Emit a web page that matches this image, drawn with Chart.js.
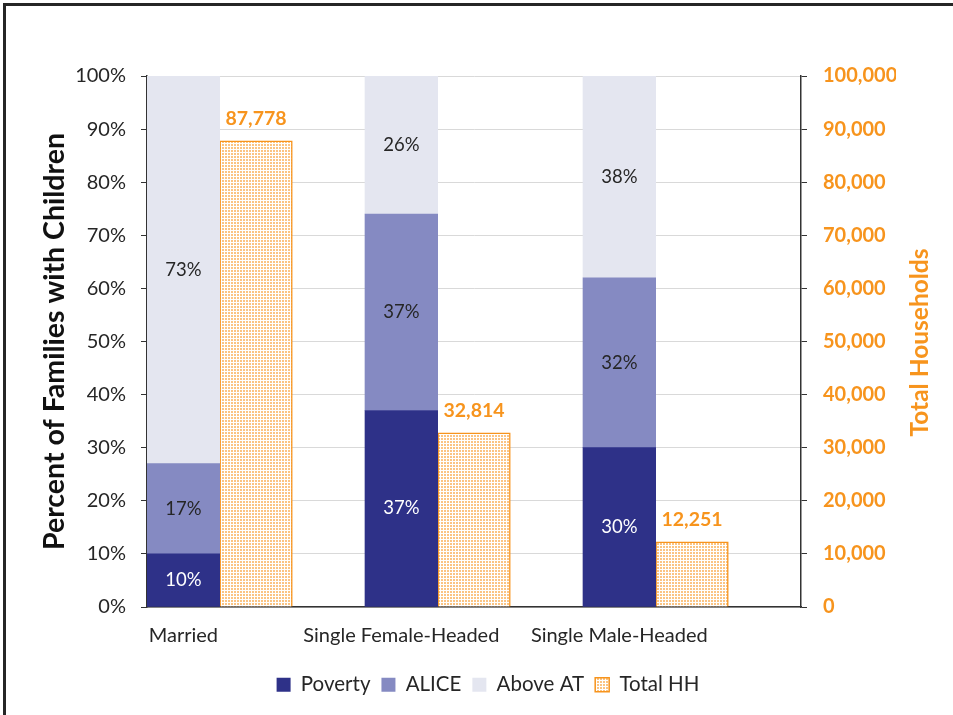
<!DOCTYPE html>
<html>
<head>
<meta charset="utf-8">
<script src="https://cdn.jsdelivr.net/npm/chart.js@4/dist/chart.umd.min.js"></script>
<style>
  html, body { margin: 0; padding: 0; background: #fff; }
  #wrap { width: 953px; height: 715px; }
</style>
</head>
<body>
<div id="wrap"><canvas id="alicesChart"></canvas></div>
<script>
// chart values
const categories = ['Married', 'Single Female-Headed', 'Single Male-Headed'];
const poverty = [10, 37, 30];
const alice = [17, 37, 32];
const aboveAT = [73, 26, 38];
const totalHH = [87778, 32814, 12251];

const FONT = 'Lato, "Open Sans", sans-serif';
const ORANGE = '#F7941D';
const TEXT = '#262626';

// each category takes 3 slots: stacked bar, total HH bar, gap
const SLOTS = 3;
function slotData(values, offset) {
  return values.map((v, i) => ({ x: i * SLOTS + offset, y: v }));
}

const canvas = document.getElementById('alicesChart');
const ctx2d = canvas.getContext('2d');

function dotPattern() {
  const p = document.createElement('canvas');
  p.width = 3; p.height = 3;
  const g = p.getContext('2d');
  g.fillStyle = '#ffffff';
  g.fillRect(0, 0, 3, 3);
  g.fillStyle = 'rgba(247,148,29,0.55)';
  g.fillRect(0, 0, 2, 2);
  return ctx2d.createPattern(p, 'repeat');
}

const frame = {
  id: 'frame',
  beforeDraw(chart) {
    const ctx = chart.ctx;
    ctx.save();
    ctx.fillStyle = '#fff';
    ctx.fillRect(0, 0, chart.width, chart.height);
    ctx.strokeStyle = '#262626';
    ctx.lineWidth = 3;
    ctx.strokeRect(4.5, 4.5, chart.width + 20, chart.height + 20);
    ctx.restore();
  }
};

// legend sits a bit right of the page centre in the original
const legendShift = {
  id: 'legendShift',
  afterLayout(chart) {
    chart.legend.left += 21;
    chart.legend.right += 21;
  }
};

const barLabels = {
  id: 'barLabels',
  afterDatasetsDraw(chart) {
    const ctx = chart.ctx;
    ctx.save();
    ctx.textAlign = 'center';
    ctx.textBaseline = 'middle';
    chart.data.datasets.forEach((ds, di) => {
      const meta = chart.getDatasetMeta(di);
      meta.data.forEach((bar, i) => {
        const v = ds.data[i].y;
        if (ds.yAxisID === 'y2') {
          ctx.font = 'bold 19.5px ' + FONT;
          ctx.fillStyle = ORANGE;
          ctx.fillText(v.toLocaleString('en-US'), bar.x, bar.y - 22);
        } else {
          ctx.font = '18.5px ' + FONT;
          ctx.fillStyle = ds.label === 'Poverty' ? '#ffffff' : TEXT;
          ctx.fillText(v + '%', bar.x, (bar.y + bar.base) / 2);
        }
      });
    });
    ctx.restore();
  }
};

// right title reads bottom to top, so draw it by hand
const rightTitle = {
  id: 'rightTitle',
  afterDraw(chart) {
    const ctx = chart.ctx;
    const area = chart.chartArea;
    ctx.save();
    ctx.translate(chart.width - 33, (area.top + area.bottom) / 2 + 1);
    ctx.rotate(-Math.PI / 2);
    ctx.font = 'bold 24.5px ' + FONT;
    ctx.fillStyle = ORANGE;
    ctx.textAlign = 'center';
    ctx.textBaseline = 'middle';
    ctx.fillText('Total Households', 0, 0);
    ctx.restore();
  }
};

new Chart(canvas, {
  type: 'bar',
  data: {
    datasets: [
      { label: 'Poverty', data: slotData(poverty, 0), backgroundColor: '#2E3188', stack: 'pct', yAxisID: 'y' },
      { label: 'ALICE', data: slotData(alice, 0), backgroundColor: '#858AC2', stack: 'pct', yAxisID: 'y' },
      { label: 'Above AT', data: slotData(aboveAT, 0), backgroundColor: '#E4E6F0', stack: 'pct', yAxisID: 'y' },
      { label: 'Total HH', data: slotData(totalHH, 1), backgroundColor: dotPattern(), borderColor: ORANGE,
        borderWidth: 1.5, stack: 'hh', yAxisID: 'y2' }
    ]
  },
  options: {
    responsive: true,
    maintainAspectRatio: false,
    animation: false,
    grouped: false,
    barPercentage: 1,
    categoryPercentage: 1,
    layout: { padding: { left: 38, right: 57, top: 76, bottom: 10 } },
    plugins: {
      legend: {
        position: 'bottom',
        labels: {
          boxWidth: 14, boxHeight: 14, padding: 11,
          color: TEXT, font: { family: FONT, size: 20.5 }
        }
      },
      tooltip: { enabled: false }
    },
    scales: {
      x: {
        type: 'linear',
        min: -0.5,
        max: categories.length * SLOTS - 0.5,
        offset: false,
        grid: { display: false, drawTicks: false },
        border: { display: true, color: '#333', width: 1.5 },
        afterBuildTicks: (scale) => {
          scale.ticks = categories.map((c, i) => ({ value: i * SLOTS }));
        },
        afterFit: (scale) => { scale.height = 56.5; },
        ticks: {
          autoSkip: false, maxRotation: 0, padding: 17,
          color: TEXT, font: { family: FONT, size: 20 },
          callback: (v) => categories[Math.round(v / SLOTS)]
        }
      },
      y: {
        stacked: true,
        min: 0, max: 100,
        grid: { color: '#D9D9D9', tickColor: '#333', tickLength: 6 },
        border: { display: true, color: '#333', width: 1.5 },
        afterFit: (scale) => { scale.width = 109; },
        ticks: {
          stepSize: 10, padding: 15,
          color: TEXT, font: { family: FONT, size: 20 },
          callback: (v) => v + '%'
        },
        title: {
          display: true,
          text: 'Percent of Families with Children',
          color: '#111',
          font: { family: FONT, size: 28.5, weight: 'bold' },
          padding: { top: 0, bottom: 4 }
        }
      },
      y2: {
        position: 'right',
        stacked: true,
        min: 0, max: 100000,
        grid: { drawOnChartArea: false, tickColor: '#333', tickLength: 6 },
        border: { display: true, color: '#333', width: 1.5 },
        afterFit: (scale) => { scale.width = 95; },
        ticks: {
          stepSize: 10000, padding: 16,
          color: ORANGE, font: { family: FONT, size: 20, weight: 'bold' },
          callback: (v) => v.toLocaleString('en-US')
        }
      }
    }
  },
  plugins: [frame, legendShift, barLabels, rightTitle]
});
</script>
</body>
</html>
